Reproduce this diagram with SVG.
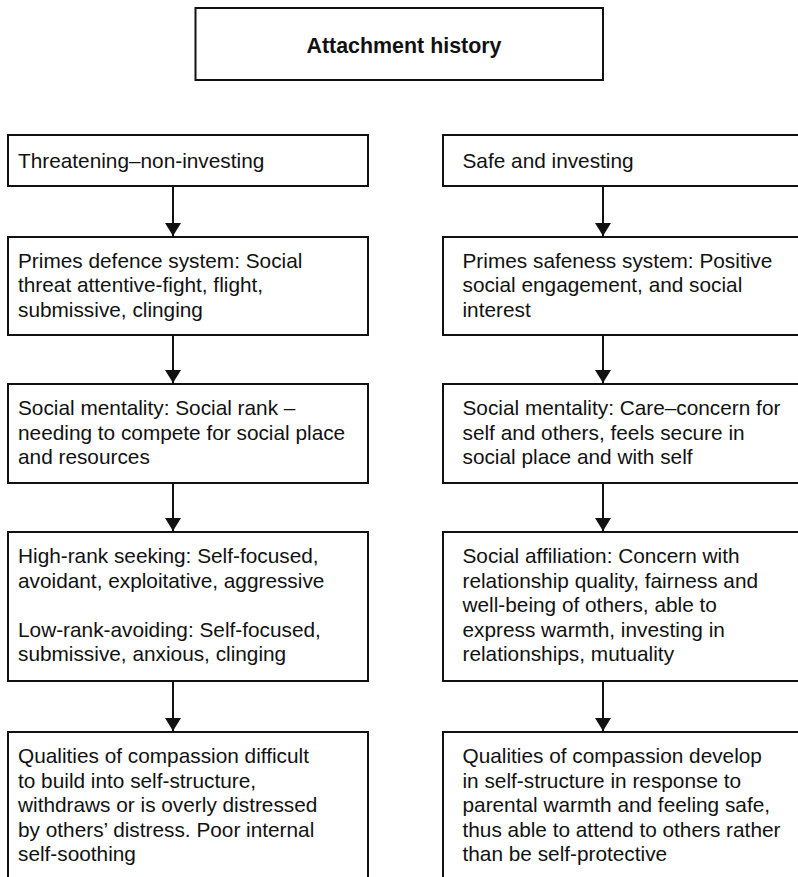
<svg xmlns="http://www.w3.org/2000/svg" width="798" height="877" viewBox="0 0 798 877">
  <style>
    .box { fill: #ffffff; stroke: #111111; stroke-width: 2; }
    .txt { font-family: "Liberation Sans", Arial, Helvetica, sans-serif; font-size: 20.8px; fill: #111111; }
    .title { font-family: "Liberation Sans", Arial, Helvetica, sans-serif; font-size: 21.4px; font-weight: bold; fill: #111111; }
    .conn { stroke: #111111; stroke-width: 2; fill: none; }
  </style>
  <defs>
    <marker id="arrow" markerUnits="userSpaceOnUse" markerWidth="14" markerHeight="16" viewBox="0 0 14 16" refX="13" refY="8" orient="auto">
      <path d="M0,0 L13,8 L0,16 z" fill="#111111"/>
    </marker>
  </defs>
  <rect width="798" height="877" fill="#ffffff"/>

  <!-- top node -->
  <g id="attachment-history">
    <rect class="box" x="195.5" y="8" width="407.5" height="72"/>
    <text class="title" x="404" y="52.5" text-anchor="middle">Attachment history</text>
  </g>

  <!-- left column -->
  <g id="threatening">
    <rect class="box" x="8" y="135" width="360" height="51"/>
    <text class="txt" x="18" y="168">Threatening–non-investing</text>
  </g>
  <g id="defence-system">
    <rect class="box" x="8" y="237" width="360" height="98"/>
    <text class="txt" x="18" y="267.5">Primes defence system: Social</text>
    <text class="txt" x="18" y="292">threat attentive-fight, flight,</text>
    <text class="txt" x="18" y="316.5">submissive, clinging</text>
  </g>
  <g id="social-rank">
    <rect class="box" x="8" y="384" width="360" height="99"/>
    <text class="txt" x="18" y="415">Social mentality: Social rank –</text>
    <text class="txt" x="18" y="439.5">needing to compete for social place</text>
    <text class="txt" x="18" y="464">and resources</text>
  </g>
  <g id="rank-seeking">
    <rect class="box" x="8" y="532" width="360" height="149"/>
    <text class="txt" x="18" y="563">High-rank seeking: Self-focused,</text>
    <text class="txt" x="18" y="587.5">avoidant, exploitative, aggressive</text>
    <text class="txt" x="18" y="636.5">Low-rank-avoiding: Self-focused,</text>
    <text class="txt" x="18" y="661">submissive, anxious, clinging</text>
  </g>
  <g id="compassion-difficult">
    <rect class="box" x="8" y="732" width="360" height="160"/>
    <text class="txt" x="18" y="763">Qualities of compassion difficult</text>
    <text class="txt" x="18" y="787.5">to build into self-structure,</text>
    <text class="txt" x="18" y="812">withdraws or is overly distressed</text>
    <text class="txt" x="18" y="836.5">by others’ distress. Poor internal</text>
    <text class="txt" x="18" y="861">self-soothing</text>
  </g>

  <!-- right column -->
  <g id="safe-investing">
    <rect class="box" x="443" y="135" width="370" height="51"/>
    <text class="txt" x="462.5" y="168">Safe and investing</text>
  </g>
  <g id="safeness-system">
    <rect class="box" x="443" y="237" width="370" height="98"/>
    <text class="txt" x="462.5" y="267.5">Primes safeness system: Positive</text>
    <text class="txt" x="462.5" y="292">social engagement, and social</text>
    <text class="txt" x="462.5" y="316.5">interest</text>
  </g>
  <g id="care-concern">
    <rect class="box" x="443" y="384" width="370" height="99"/>
    <text class="txt" x="462.5" y="415">Social mentality: Care–concern for</text>
    <text class="txt" x="462.5" y="439.5">self and others, feels secure in</text>
    <text class="txt" x="462.5" y="464">social place and with self</text>
  </g>
  <g id="social-affiliation">
    <rect class="box" x="443" y="532" width="370" height="149"/>
    <text class="txt" x="462.5" y="563">Social affiliation: Concern with</text>
    <text class="txt" x="462.5" y="587.5">relationship quality, fairness and</text>
    <text class="txt" x="462.5" y="612">well-being of others, able to</text>
    <text class="txt" x="462.5" y="636.5">express warmth, investing in</text>
    <text class="txt" x="462.5" y="661">relationships, mutuality</text>
  </g>
  <g id="compassion-develop">
    <rect class="box" x="443" y="732" width="370" height="160"/>
    <text class="txt" x="462.5" y="763">Qualities of compassion develop</text>
    <text class="txt" x="462.5" y="787.5">in self-structure in response to</text>
    <text class="txt" x="462.5" y="812">parental warmth and feeling safe,</text>
    <text class="txt" x="462.5" y="836.5">thus able to attend to others rather</text>
    <text class="txt" x="462.5" y="861">than be self-protective</text>
  </g>

  <!-- connectors -->
  <g id="connectors">
    <line class="conn" x1="173" y1="186" x2="173" y2="236" marker-end="url(#arrow)"/>
    <line class="conn" x1="173" y1="335" x2="173" y2="383" marker-end="url(#arrow)"/>
    <line class="conn" x1="173" y1="483" x2="173" y2="531" marker-end="url(#arrow)"/>
    <line class="conn" x1="173" y1="681" x2="173" y2="731" marker-end="url(#arrow)"/>
    <line class="conn" x1="603" y1="186" x2="603" y2="236" marker-end="url(#arrow)"/>
    <line class="conn" x1="603" y1="335" x2="603" y2="383" marker-end="url(#arrow)"/>
    <line class="conn" x1="603" y1="483" x2="603" y2="531" marker-end="url(#arrow)"/>
    <line class="conn" x1="603" y1="681" x2="603" y2="731" marker-end="url(#arrow)"/>
  </g>
</svg>
